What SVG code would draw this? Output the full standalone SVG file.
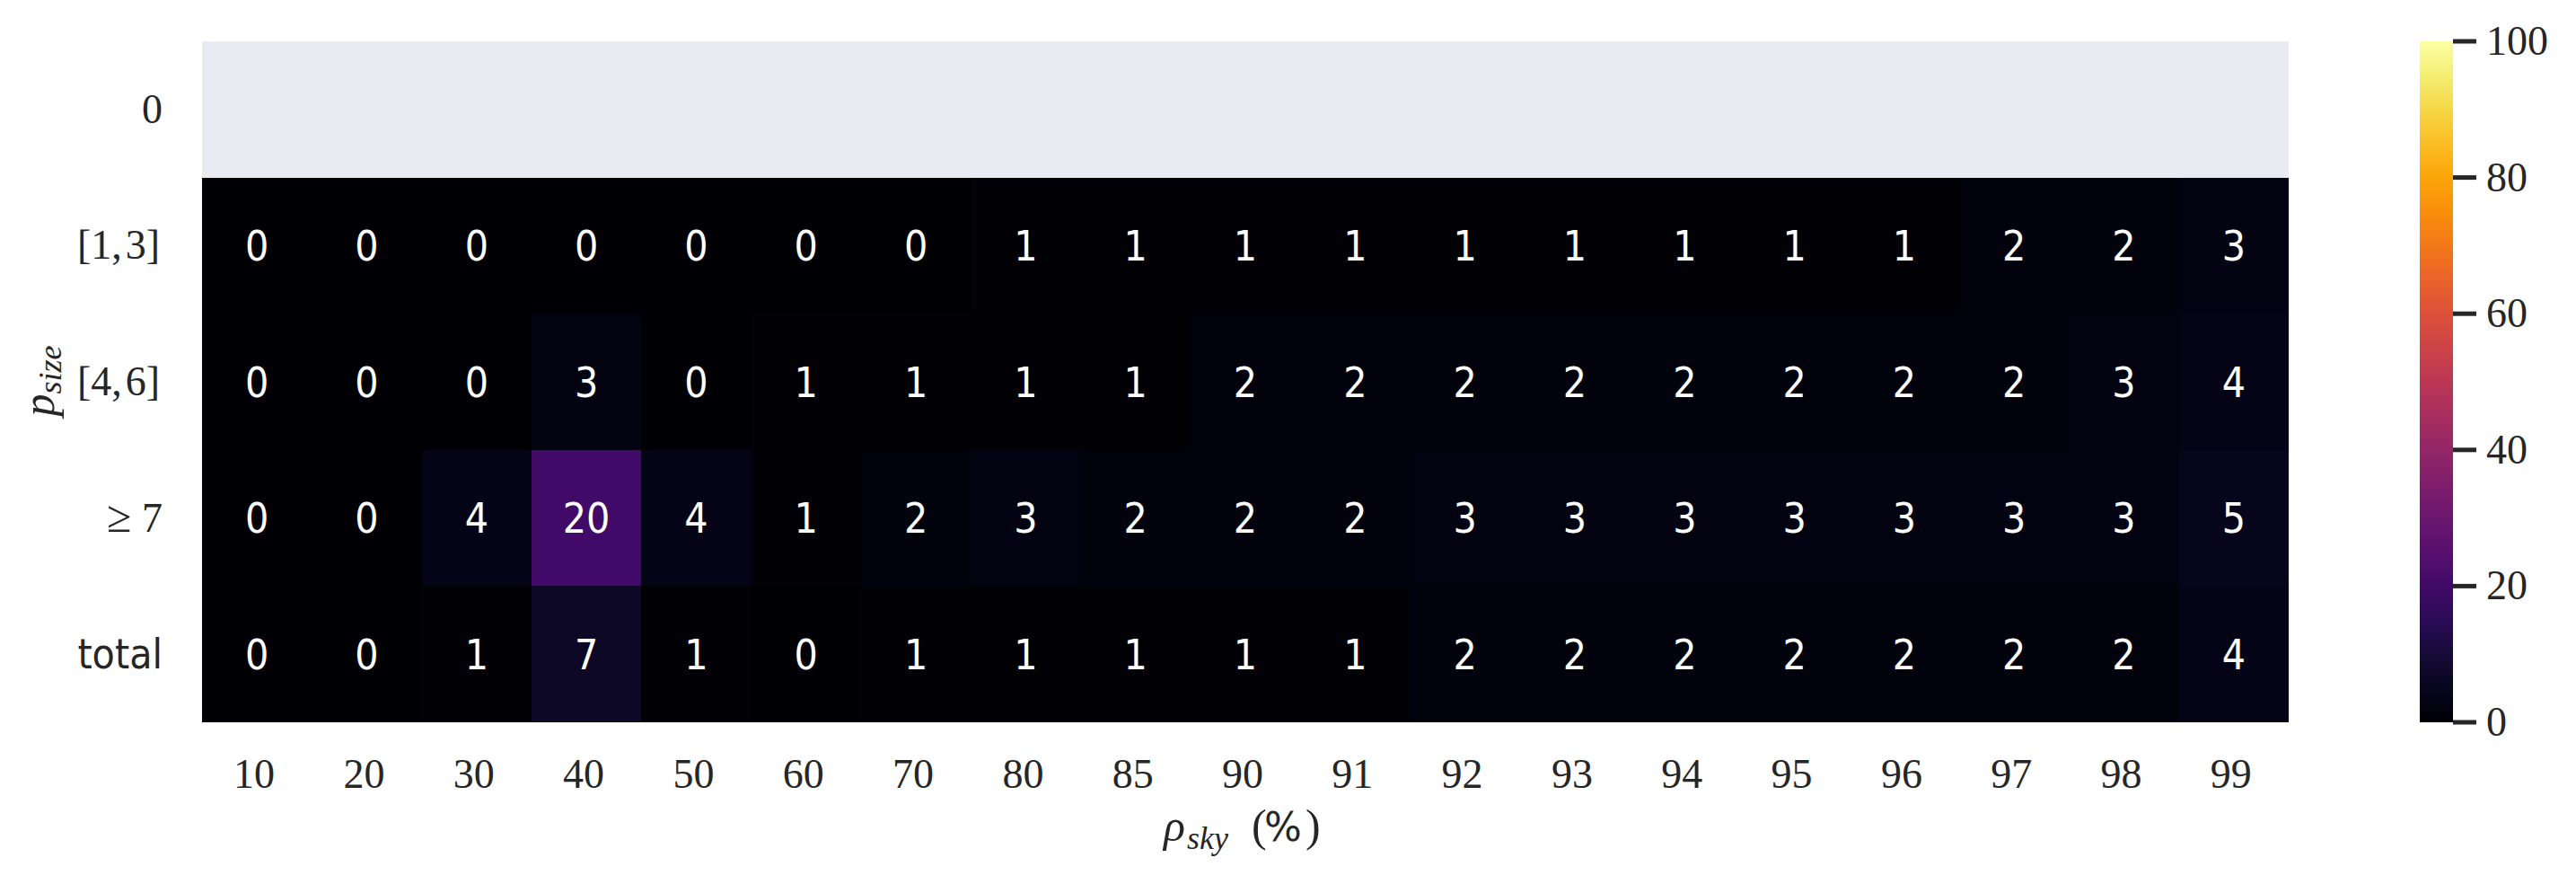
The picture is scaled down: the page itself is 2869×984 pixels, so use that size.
<svg xmlns="http://www.w3.org/2000/svg" width="2869" height="984" viewBox="0 0 2869 984">
<style>
.v{fill:#ffffff;font-family:'DejaVu Sans Condensed','DejaVu Sans',sans-serif;font-stretch:condensed;font-size:46px;text-anchor:middle}
.tk{fill:#262626;font-family:'Liberation Serif',serif;font-size:46px}
.xt{text-anchor:middle}
.yt{text-anchor:end}
.sans{font-family:'DejaVu Sans Condensed','DejaVu Sans',sans-serif;font-stretch:condensed}
.pct{font-family:'DejaVu Sans',sans-serif}
.cb{stroke:#262626;stroke-width:5}
.hm rect{shape-rendering:crispEdges}
</style>
<defs>
<linearGradient id="inferno" x1="0" y1="1" x2="0" y2="0">
<stop offset="0" stop-color="#000004"/>
<stop offset="0.05" stop-color="#08061D"/>
<stop offset="0.1" stop-color="#160B39"/>
<stop offset="0.15" stop-color="#2B0B57"/>
<stop offset="0.2" stop-color="#420A68"/>
<stop offset="0.25" stop-color="#57106E"/>
<stop offset="0.3" stop-color="#6A176E"/>
<stop offset="0.35" stop-color="#7F1E6C"/>
<stop offset="0.4" stop-color="#932667"/>
<stop offset="0.45" stop-color="#A82E5F"/>
<stop offset="0.5" stop-color="#BC3754"/>
<stop offset="0.55" stop-color="#CD4347"/>
<stop offset="0.6" stop-color="#DD513A"/>
<stop offset="0.65" stop-color="#EA632A"/>
<stop offset="0.7" stop-color="#F37819"/>
<stop offset="0.75" stop-color="#F98E0A"/>
<stop offset="0.8" stop-color="#FCA50A"/>
<stop offset="0.85" stop-color="#FABD24"/>
<stop offset="0.9" stop-color="#F6D746"/>
<stop offset="0.95" stop-color="#F3EE73"/>
<stop offset="1" stop-color="#FCFFA4"/>
</linearGradient>
</defs>
<rect width="2869" height="984" fill="#ffffff"/>

<g id="heatmap" class="hm">
<rect id="row-nan" x="225" y="46" width="2324" height="151.6" fill="#EAEAF2"/>
<g id="row-1-3">
<rect x="225" y="197.6" width="856.2" height="151.6" fill="#000004"/>
<rect x="1081.2" y="197.6" width="1100.9" height="151.6" fill="#010106"/>
<rect x="2182.1" y="197.6" width="244.6" height="151.6" fill="#02020C"/>
<rect x="2426.7" y="197.6" width="122.3" height="151.6" fill="#030210"/>
</g>
<g id="row-4-6">
<rect x="225" y="349.2" width="2324" height="151.6" fill="#000004"/>
<rect x="591.9" y="349.2" width="122.4" height="151.6" fill="#030210"/>
<rect x="836.6" y="349.2" width="489.2" height="151.6" fill="#010106"/>
<rect x="1325.8" y="349.2" width="978.6" height="151.6" fill="#02020C"/>
<rect x="2304.4" y="349.2" width="122.3" height="151.6" fill="#030210"/>
<rect x="2426.7" y="349.2" width="122.3" height="151.6" fill="#050417"/>
</g>
<g id="row-ge7">
<rect x="225" y="500.8" width="2324" height="151.6" fill="#000004"/>
<rect x="469.6" y="500.8" width="122.3" height="151.6" fill="#050417"/>
<rect x="591.9" y="500.8" width="122.4" height="151.6" fill="#420A68"/>
<rect x="714.3" y="500.8" width="122.3" height="151.6" fill="#050417"/>
<rect x="836.6" y="500.8" width="122.3" height="151.6" fill="#010106"/>
<rect x="958.9" y="500.8" width="122.3" height="151.6" fill="#02020C"/>
<rect x="1081.2" y="500.8" width="122.3" height="151.6" fill="#030210"/>
<rect x="1203.5" y="500.8" width="367" height="151.6" fill="#02020C"/>
<rect x="1570.5" y="500.8" width="856.2" height="151.6" fill="#030210"/>
<rect x="2426.7" y="500.8" width="122.3" height="151.6" fill="#07051B"/>
</g>
<g id="row-total">
<rect x="225" y="652.4" width="2324" height="151.6" fill="#000004"/>
<rect x="469.6" y="652.4" width="122.3" height="151.6" fill="#010106"/>
<rect x="591.9" y="652.4" width="122.4" height="151.6" fill="#0C0826"/>
<rect x="714.3" y="652.4" width="122.3" height="151.6" fill="#010106"/>
<rect x="958.9" y="652.4" width="611.6" height="151.6" fill="#010106"/>
<rect x="1570.5" y="652.4" width="856.2" height="151.6" fill="#02020C"/>
<rect x="2426.7" y="652.4" width="122.3" height="151.6" fill="#050417"/>
</g>
</g>

<g id="annotations" class="v">
<g id="ann-1-3">
<text x="286.2" y="290">0</text><text x="408.5" y="290">0</text><text x="530.8" y="290">0</text><text x="653.1" y="290">0</text><text x="775.4" y="290">0</text><text x="897.7" y="290">0</text><text x="1020.1" y="290">0</text><text x="1142.4" y="290">1</text><text x="1264.7" y="290">1</text><text x="1387" y="290">1</text><text x="1509.3" y="290">1</text><text x="1631.6" y="290">1</text><text x="1754" y="290">1</text><text x="1876.3" y="290">1</text><text x="1998.6" y="290">1</text><text x="2120.9" y="290">1</text><text x="2243.2" y="290">2</text><text x="2365.5" y="290">2</text><text x="2487.8" y="290">3</text>
</g>
<g id="ann-4-6">
<text x="286.2" y="441.6">0</text><text x="408.5" y="441.6">0</text><text x="530.8" y="441.6">0</text><text x="653.1" y="441.6">3</text><text x="775.4" y="441.6">0</text><text x="897.7" y="441.6">1</text><text x="1020.1" y="441.6">1</text><text x="1142.4" y="441.6">1</text><text x="1264.7" y="441.6">1</text><text x="1387" y="441.6">2</text><text x="1509.3" y="441.6">2</text><text x="1631.6" y="441.6">2</text><text x="1754" y="441.6">2</text><text x="1876.3" y="441.6">2</text><text x="1998.6" y="441.6">2</text><text x="2120.9" y="441.6">2</text><text x="2243.2" y="441.6">2</text><text x="2365.5" y="441.6">3</text><text x="2487.8" y="441.6">4</text>
</g>
<g id="ann-ge7">
<text x="286.2" y="593.2">0</text><text x="408.5" y="593.2">0</text><text x="530.8" y="593.2">4</text><text x="653.1" y="593.2">20</text><text x="775.4" y="593.2">4</text><text x="897.7" y="593.2">1</text><text x="1020.1" y="593.2">2</text><text x="1142.4" y="593.2">3</text><text x="1264.7" y="593.2">2</text><text x="1387" y="593.2">2</text><text x="1509.3" y="593.2">2</text><text x="1631.6" y="593.2">3</text><text x="1754" y="593.2">3</text><text x="1876.3" y="593.2">3</text><text x="1998.6" y="593.2">3</text><text x="2120.9" y="593.2">3</text><text x="2243.2" y="593.2">3</text><text x="2365.5" y="593.2">3</text><text x="2487.8" y="593.2">5</text>
</g>
<g id="ann-total">
<text x="286.2" y="744.8">0</text><text x="408.5" y="744.8">0</text><text x="530.8" y="744.8">1</text><text x="653.1" y="744.8">7</text><text x="775.4" y="744.8">1</text><text x="897.7" y="744.8">0</text><text x="1020.1" y="744.8">1</text><text x="1142.4" y="744.8">1</text><text x="1264.7" y="744.8">1</text><text x="1387" y="744.8">1</text><text x="1509.3" y="744.8">1</text><text x="1631.6" y="744.8">2</text><text x="1754" y="744.8">2</text><text x="1876.3" y="744.8">2</text><text x="1998.6" y="744.8">2</text><text x="2120.9" y="744.8">2</text><text x="2243.2" y="744.8">2</text><text x="2365.5" y="744.8">2</text><text x="2487.8" y="744.8">4</text>
</g>
</g>

<g id="y-ticks" class="tk yt">
<text x="181" y="137">0</text>
<text x="178" y="288">[1,&#8202;3]</text>
<text x="178" y="440">[4,&#8202;6]</text>
<text x="181" y="592"><tspan font-size="50">≥</tspan> 7</text>
<text x="181" y="744" class="sans">total</text>
</g>

<g id="x-ticks" class="tk xt">
<text x="283" y="877">10</text><text x="405.5" y="877">20</text><text x="527.8" y="877">30</text><text x="650.1" y="877">40</text><text x="772.4" y="877">50</text><text x="894.7" y="877">60</text><text x="1017.1" y="877">70</text><text x="1139.4" y="877">80</text><text x="1261.7" y="877">85</text><text x="1384" y="877">90</text><text x="1506.3" y="877">91</text><text x="1628.6" y="877">92</text><text x="1751" y="877">93</text><text x="1873.3" y="877">94</text><text x="1995.6" y="877">95</text><text x="2117.9" y="877">96</text><text x="2240.2" y="877">97</text><text x="2362.5" y="877">98</text><text x="2484.8" y="877">99</text>
</g>

<g id="x-label" class="tk">
<text y="936"><tspan x="1296" font-style="italic" font-size="50">ρ</tspan><tspan x="1322" y="945" font-style="italic" font-size="36">sky</tspan><tspan x="1394" y="936" font-size="50">(</tspan><tspan x="1408" class="pct" font-size="44">%</tspan><tspan x="1454" font-size="50">)</tspan></text>
</g>

<g id="y-label" class="tk">
<text transform="translate(60,424) rotate(-90)" text-anchor="middle"><tspan font-style="italic" font-size="50">p</tspan><tspan font-style="italic" font-size="36" dy="8">size</tspan></text>
</g>

<g id="colorbar">
<rect x="2695" y="46" width="37" height="758" fill="url(#inferno)"/>
<g class="cb">
<line x1="2732" y1="46" x2="2758" y2="46"/>
<line x1="2732" y1="197.6" x2="2758" y2="197.6"/>
<line x1="2732" y1="349.2" x2="2758" y2="349.2"/>
<line x1="2732" y1="500.8" x2="2758" y2="500.8"/>
<line x1="2732" y1="652.4" x2="2758" y2="652.4"/>
<line x1="2732" y1="804" x2="2758" y2="804"/>
</g>
<g class="tk" font-size="45">
<text x="2769" y="61">100</text>
<text x="2769" y="213">80</text>
<text x="2769" y="364">60</text>
<text x="2769" y="516">40</text>
<text x="2769" y="667">20</text>
<text x="2769" y="819">0</text>
</g>
</g>
</svg>
